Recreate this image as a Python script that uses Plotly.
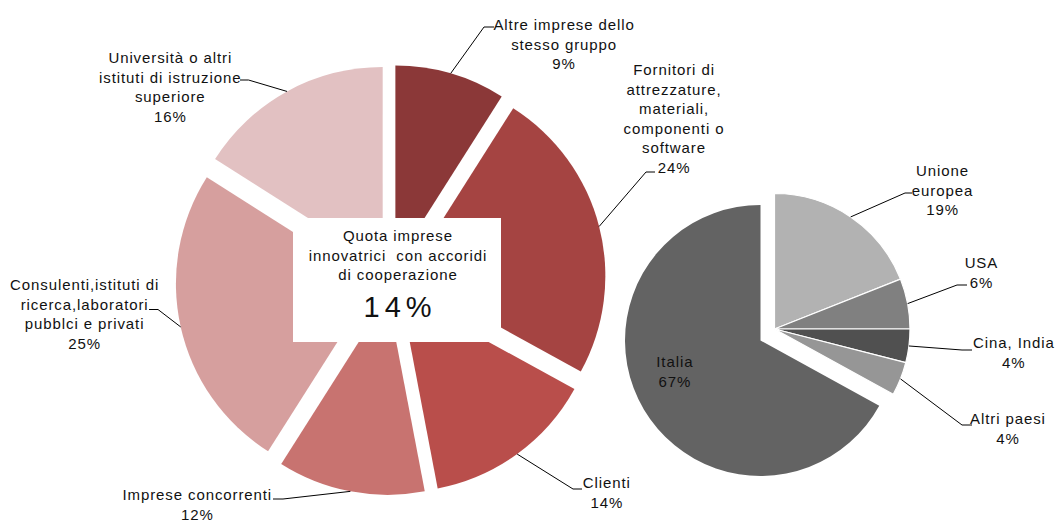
import math
import plotly.graph_objects as go

W, H = 1057, 521

# ---------------- data ----------------
partner_labels = [
    "Altre imprese dello<br>stesso gruppo",
    "Fornitori di<br>attrezzature,<br>materiali,<br>componenti o<br>software",
    "Clienti",
    "Imprese concorrenti",
    "Consulenti,istituti di<br>ricerca,laboratori<br>pubblci e privati",
    "Università o altri<br>istituti di istruzione<br>superiore",
]
partner_values = [9, 24, 14, 12, 25, 16]
partner_colors = ["#8B3838", "#A54442", "#B94E4B", "#C87370", "#D69F9E", "#E2C1C2"]

area_labels = ["Unione<br>europea", "USA", "Cina, India", "Altri paesi", "Italia"]
area_values = [19, 6, 4, 4, 67]
area_colors = ["#B2B2B2", "#808080", "#505050", "#969696", "#636363"]

quota_title = "Quota imprese<br>innovatrici  con accoridi<br>di cooperazione"
quota_value = 14

# ---------------- layout geometry (pixels) ----------------
LCX, LCY, LR, LPULL = 390.7, 280.0, 198.5, 0.084
ICX, ICY, IR = 760.5, 340.5, 135.5          # Italia slice
GCX, GCY = 774.5, 329.0                      # detached foreign slices

FONT = "Liberation Sans, Arial, sans-serif"
FS = 15


def px(x):
    return x / W


def py(y):
    return 1 - y / H


def dom(cx, cy, half):
    return dict(x=[px(cx - half), px(cx + half)], y=[py(cy + half), py(cy - half)])


def mid_angles(values):
    tot = sum(values)
    out, acc = [], 0
    for v in values:
        out.append((acc + v / 2) / tot * 360)
        acc += v
    return out


fig = go.Figure()

# left pie
fig.add_trace(go.Pie(
    labels=[l.replace("<br>", " ") for l in partner_labels],
    values=partner_values,
    marker=dict(colors=partner_colors, line=dict(width=0)),
    pull=[LPULL] * len(partner_values),
    sort=False, direction="clockwise", rotation=0,
    textinfo="none", showlegend=False,
    domain=dom(LCX, LCY, LR * (1 + LPULL)),
))

# right pie: Italia
transparent = "rgba(0,0,0,0)"
fig.add_trace(go.Pie(
    labels=[l.replace("<br>", " ") for l in area_labels],
    values=area_values,
    marker=dict(colors=[transparent] * 4 + [area_colors[4]], line=dict(width=0)),
    sort=False, direction="clockwise", rotation=0,
    textinfo="none", showlegend=False, hoverinfo="skip",
    domain=dom(ICX, ICY, IR),
))
# right pie: foreign slices, detached as a group
fig.add_trace(go.Pie(
    labels=[l.replace("<br>", " ") for l in area_labels],
    values=area_values,
    marker=dict(colors=area_colors[:4] + [transparent],
                line=dict(color=["white"] * 4 + [transparent], width=[1.2] * 4 + [0])),
    sort=False, direction="clockwise", rotation=0,
    textinfo="none", showlegend=False,
    domain=dom(GCX, GCY, IR),
))

shapes = []
annotations = []

# center box
shapes.append(dict(type="rect", xref="paper", yref="paper", layer="above",
                   x0=px(293), x1=px(501), y0=py(342), y1=py(218),
                   fillcolor="white", line=dict(width=0)))
annotations.append(dict(xref="paper", yref="paper", x=px(397.5), y=py(255.5),
                        text=quota_title, showarrow=False,
                        font=dict(family=FONT, size=FS, color="#111"),
                        xanchor="center", yanchor="middle"))
annotations.append(dict(xref="paper", yref="paper", x=px(400), y=py(307),
                        text=f"{quota_value}%", showarrow=False,
                        font=dict(family=FONT, size=29, color="#111"),
                        xanchor="center", yanchor="middle"))

# left labels: (label centre x, y), leader elbow, leader end
left_pos = [
    ((564, 44), (484, 27), (494, 27)),
    ((674, 118.5), (646, 172), (655, 172)),
    ((606.5, 492.5), (573, 489), (582, 489)),
    ((197.5, 504), (283, 499), (273, 499)),
    ((84, 313.6), (158, 309.5), (149, 309.5)),
    ((170, 86.5), (248.5, 80), (240, 80)),
]
for lab, val, ang, (c, e1, e2) in zip(partner_labels, partner_values,
                                      mid_angles(partner_values), left_pos):
    a = math.radians(ang)
    rr = LR * (1 + LPULL)
    ax, ay = LCX + rr * math.sin(a), LCY - rr * math.cos(a)
    shapes.append(dict(type="path", xref="paper", yref="paper", layer="above",
                       path=f"M{px(ax)},{py(ay)} L{px(e1[0])},{py(e1[1])} L{px(e2[0])},{py(e2[1])}",
                       line=dict(color="black", width=1)))
    annotations.append(dict(xref="paper", yref="paper", x=px(c[0]), y=py(c[1]),
                            text=f"{lab}<br>{val}%", showarrow=False,
                            font=dict(family=FONT, size=FS, color="#111"),
                            xanchor="center", yanchor="middle"))

# right labels
right_pos = [
    ((943, 190), (905, 193), (912, 193)),
    ((981, 272), (957, 285), (967, 285)),
    ((1014, 352.5), (962, 350), (972, 350)),
    ((1007.5, 428.4), (962, 425), (972, 425)),
    ((675, 371.7), None, None),
]
for i, (lab, val, ang, (c, e1, e2)) in enumerate(zip(area_labels, area_values,
                                                     mid_angles(area_values), right_pos)):
    if e1 is not None:
        a = math.radians(ang)
        ax, ay = GCX + IR * math.sin(a), GCY - IR * math.cos(a)
        shapes.append(dict(type="path", xref="paper", yref="paper", layer="above",
                           path=f"M{px(ax)},{py(ay)} L{px(e1[0])},{py(e1[1])} L{px(e2[0])},{py(e2[1])}",
                           line=dict(color="black", width=1)))
    annotations.append(dict(xref="paper", yref="paper", x=px(c[0]), y=py(c[1]),
                            text=f"{lab}<br>{val}%", showarrow=False,
                            font=dict(family=FONT, size=FS, color="#111"),
                            xanchor="center", yanchor="middle"))

fig.update_layout(
    width=W, height=H,
    margin=dict(l=0, r=0, t=0, b=0),
    paper_bgcolor="white", plot_bgcolor="white",
    shapes=shapes, annotations=annotations,
    showlegend=False,
)

post = """
document.body.style.margin = '0';
var gd = document.getElementById('{plot_id}');
gd.querySelectorAll('text.annotation-text').forEach(function (t) {
  var fs = parseFloat(t.style.fontSize);
  t.style.letterSpacing = fs > 20 ? '5px' : '0.9px';
});
"""

fig.write_html("out.html", post_script=post, config={"displayModeBar": False})
